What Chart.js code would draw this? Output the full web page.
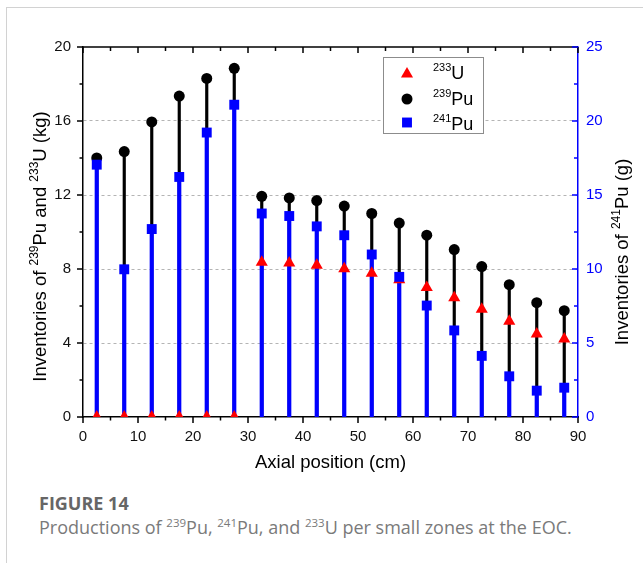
<!DOCTYPE html>
<html>
<head>
<meta charset="utf-8">
<script src="https://cdn.jsdelivr.net/npm/chart.js@4.4.1/dist/chart.umd.min.js"></script>
<style>
  html, body { margin: 0; padding: 0; background: #fff; }
  body { width: 643px; height: 563px; position: relative; overflow: hidden; }
  .frame { position: absolute; left: 6px; top: 7px; right: -4px; bottom: -4px;
           border-left: 1px solid #d2d2d2; border-top: 1px solid #d2d2d2; }
  #chart { position: absolute; left: 0; top: 0; }
  .fig { position: absolute; left: 39px; top: 494px; font-family: "Open Sans", sans-serif;
         font-weight: 700; font-size: 18px; line-height: 18px; color: #666; white-space: nowrap; }
  .cap { position: absolute; left: 39px; top: 518px; font-family: "Open Sans", sans-serif;
         font-size: 18px; line-height: 18px; color: #7a7a7a; white-space: nowrap; }
  .cap sup { font-size: 11.5px; vertical-align: baseline; position: relative; top: -0.6em; }
</style>
</head>
<body>
<div class="frame"></div>
<canvas id="chart" width="643" height="480"></canvas>
<div class="fig">FIGURE 14</div>
<div class="cap">Productions of <sup>239</sup>Pu, <sup>241</sup>Pu, and <sup>233</sup>U per small zones at the EOC.</div>

<script>
// Положения зон (cm)
const positions = [2.5, 7.5, 12.5, 17.5, 22.5, 27.5, 32.5, 37.5, 42.5,
                   47.5, 52.5, 57.5, 62.5, 67.5, 72.5, 77.5, 82.5, 87.5];
// 239Pu (kg), левая ось
const pu239 = [14.0, 14.35, 15.95, 17.35, 18.3, 18.85, 11.93, 11.84, 11.7,
               11.4, 11.0, 10.48, 9.83, 9.05, 8.13, 7.15, 6.18, 5.75];
// 241Pu (g), правая ось
const pu241 = [17.05, 9.98, 12.7, 16.22, 19.22, 21.1, 13.75, 13.58, 12.88,
               12.28, 10.98, 9.47, 7.53, 5.85, 4.13, 2.75, 1.78, 1.98];
// 233U (kg), левая ось
const u233 = [0, 0, 0, 0, 0, 0, 8.37, 8.32, 8.2,
              8.02, 7.77, 7.42, 7.0, 6.45, 5.83, 5.17, 4.48, 4.22];

// Деления осей
const xTicks = [0, 10, 20, 30, 40, 50, 60, 70, 80, 90];
const leftTicks = [0, 4, 8, 12, 16, 20];
const rightTicks = [0, 5, 10, 15, 20, 25];

const BLUE = '#0000ff';
const RED = '#ff0000';
const FONT = '"Liberation Sans", Arial, sans-serif';

const pairs = (xs, ys) => xs.map((x, i) => ({ x: x, y: ys[i] }));
const mids = arr => arr.slice(1).map((v, i) => (v + arr[i]) / 2);

// Текст с верхними индексами
function richWidth(ctx, parts, size, supSize) {
    let w = 0;
    parts.forEach(p => {
        ctx.font = (p.sup ? supSize : size) + 'px ' + FONT;
        w += ctx.measureText(p.t).width;
    });
    return w;
}
function drawRich(ctx, parts, x, y, size, supSize, supShift) {
    let cx = x;
    parts.forEach(p => {
        ctx.font = (p.sup ? supSize : size) + 'px ' + FONT;
        ctx.fillText(p.t, cx, p.sup ? y - supShift : y);
        cx += ctx.measureText(p.t).width;
    });
}

const xTitle = [{ t: 'Axial position (cm)' }];
const leftTitle = [{ t: 'Inventories of ' }, { t: '239', sup: true }, { t: 'Pu and ' },
                   { t: '233', sup: true }, { t: 'U (kg)' }];
const rightTitle = [{ t: 'Inventories of ' }, { t: '241', sup: true }, { t: 'Pu (g)' }];

const legendItems = [
    { style: 'triangle', color: RED, r: 7, cy: 74, base: 79, parts: [{ t: '233', sup: true }, { t: 'U' }] },
    { style: 'circle', color: '#000', r: 5.5, cy: 99, base: 105, parts: [{ t: '239', sup: true }, { t: 'Pu' }] },
    { style: 'rect', color: BLUE, r: 7, cy: 122.5, base: 130, parts: [{ t: '241', sup: true }, { t: 'Pu' }] }
];

const originAxes = {
    id: 'originAxes',
    afterDraw(chart) {
        const { ctx, chartArea: a, scales } = chart;
        const line = (x1, y1, x2, y2) => { ctx.beginPath(); ctx.moveTo(x1, y1); ctx.lineTo(x2, y2); ctx.stroke(); };
        ctx.save();
        ctx.lineWidth = 1.5;

        // верхняя ось
        ctx.strokeStyle = '#000';
        line(a.left, a.top, a.right, a.top);
        xTicks.forEach(v => {
            const px = scales.x.getPixelForValue(v);
            line(px, a.bottom, px, a.bottom + 6);
            line(px, a.top, px, a.top + 6);
        });
        mids(xTicks).forEach(v => {
            const px = scales.x.getPixelForValue(v);
            line(px, a.bottom, px, a.bottom + 3.5);
            line(px, a.top, px, a.top + 4);
        });
        leftTicks.forEach(v => {
            const py = scales.y.getPixelForValue(v);
            line(a.left - 6, py, a.left, py);
        });
        mids(leftTicks).forEach(v => {
            const py = scales.y.getPixelForValue(v);
            line(a.left - 3.5, py, a.left, py);
        });
        ctx.strokeStyle = BLUE;
        rightTicks.forEach(v => {
            const py = scales.y1.getPixelForValue(v);
            line(a.right - 6, py, a.right, py);
        });
        mids(rightTicks).forEach(v => {
            const py = scales.y1.getPixelForValue(v);
            line(a.right - 4, py, a.right, py);
        });

        // подписи осей
        ctx.fillStyle = '#000';
        ctx.textBaseline = 'alphabetic';
        ctx.textAlign = 'left';
        let w = richWidth(ctx, xTitle, 18.5, 12);
        drawRich(ctx, xTitle, (a.left + a.right) / 2 - w / 2, 468, 18.5, 12, 8);

        w = richWidth(ctx, leftTitle, 18.5, 12);
        ctx.save();
        ctx.translate(46, 246.5);
        ctx.rotate(-Math.PI / 2);
        drawRich(ctx, leftTitle, -w / 2, 0, 18.5, 12, 8);
        ctx.restore();

        w = richWidth(ctx, rightTitle, 18.5, 12);
        ctx.save();
        ctx.translate(628, 252);
        ctx.rotate(-Math.PI / 2);
        drawRich(ctx, rightTitle, -w / 2, 0, 18.5, 12, 8);
        ctx.restore();

        // легенда
        ctx.fillStyle = '#fff';
        ctx.fillRect(383.5, 57.5, 100, 76);
        ctx.strokeStyle = '#8c8c8c';
        ctx.lineWidth = 1;
        ctx.strokeRect(383.5, 57.5, 100, 76);
        legendItems.forEach(it => {
            ctx.fillStyle = it.color;
            Chart.helpers.drawPoint(ctx, { pointStyle: it.style, radius: it.r, rotation: 0, borderWidth: 0 }, 407, it.cy);
            ctx.fillStyle = '#000';
            drawRich(ctx, it.parts, 433, it.base, 18, 11, 8);
        });
        ctx.restore();
    }
};

new Chart(document.getElementById('chart'), {
    type: 'scatter',
    data: {
        datasets: [
            { label: '241Pu', data: pairs(positions, pu241), yAxisID: 'y1', pointStyle: 'rect',
              pointRadius: 7, backgroundColor: BLUE, borderWidth: 0, clip: 0, order: 0 },
            { label: '239Pu', data: pairs(positions, pu239), yAxisID: 'y', pointStyle: 'circle',
              pointRadius: 5.5, backgroundColor: '#000', borderWidth: 0, clip: 0, order: 1 },
            { label: '233U', data: pairs(positions, u233), yAxisID: 'y', pointStyle: 'triangle',
              pointRadius: 7, backgroundColor: RED, borderWidth: 0, clip: 0, order: 2 },
            { type: 'bar', label: '241Pu stem', data: pairs(positions, pu241), yAxisID: 'y1',
              backgroundColor: BLUE, barThickness: 3.5, grouped: false, order: 3 },
            { type: 'bar', label: '239Pu stem', data: pairs(positions, pu239), yAxisID: 'y',
              backgroundColor: '#000', barThickness: 2.5, grouped: false, order: 4 }
        ]
    },
    options: {
        responsive: false,
        animation: false,
        devicePixelRatio: 1,
        layout: { padding: { top: 47, left: 0, right: 0, bottom: 0 } },
        plugins: { legend: { display: false }, tooltip: { enabled: false } },
        scales: {
            x: {
                type: 'linear', min: 0, max: 90, offset: false,
                afterFit: s => { s.height = 63; },
                afterBuildTicks: s => { s.ticks = xTicks.map(v => ({ value: v })); },
                grid: { display: false, drawTicks: false },
                border: { display: true, color: '#000', width: 1.5 },
                ticks: { padding: 10.5, color: '#111', maxRotation: 0, autoSkip: false,
                         font: { family: FONT, size: 15 } }
            },
            y: {
                type: 'linear', position: 'left', min: 0, max: 20,
                afterFit: s => { s.width = 83; },
                afterBuildTicks: s => { s.ticks = leftTicks.map(v => ({ value: v })); },
                grid: {
                    drawTicks: false, lineWidth: 1,
                    color: c => (c.tick && (c.tick.value === 0 || c.tick.value === 20)) ? 'rgba(0,0,0,0)' : '#b4b4b4'
                },
                border: { color: '#000', width: 1.5, dash: [3, 3] },
                ticks: { padding: 12, color: '#111', font: { family: FONT, size: 15 } }
            },
            y1: {
                type: 'linear', position: 'right', min: 0, max: 25,
                afterFit: s => { s.width = 65; },
                afterBuildTicks: s => { s.ticks = rightTicks.map(v => ({ value: v })); },
                grid: { display: false, drawTicks: false },
                border: { color: BLUE, width: 1.5 },
                ticks: { padding: 8, color: BLUE, font: { family: FONT, size: 15 } }
            }
        }
    },
    plugins: [originAxes]
});
</script>
</body>
</html>
